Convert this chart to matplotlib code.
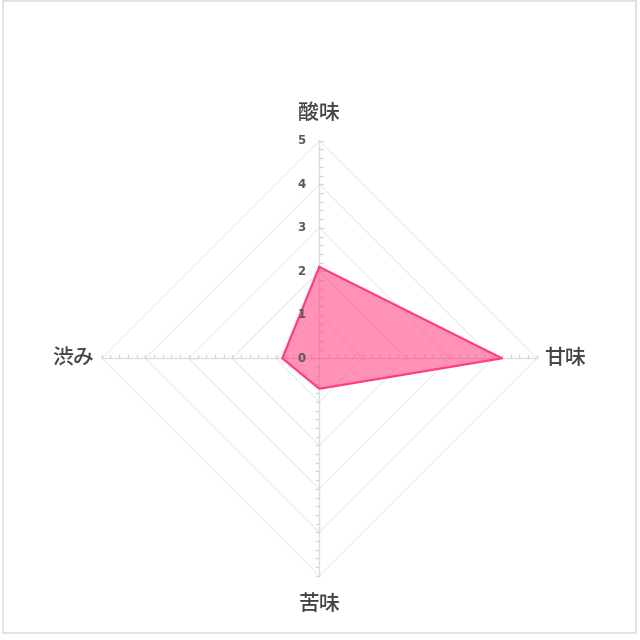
import matplotlib.pyplot as plt
import numpy as np
from matplotlib.patches import Rectangle

plt.rcParams['font.family'] = ['Noto Sans CJK JP', 'DejaVu Sans']

# data
categories = ['酸味', '甘味', '苦味', '渋み']
values = [2.1, 4.2, 0.7, 0.85]
levels = [1, 2, 3, 4, 5]
tick_labels = ['0', '1', '2', '3', '4', '5']
r_max = 5

fig = plt.figure(figsize=(6.4, 6.4), dpi=100)
ax = fig.add_axes([0, 0, 1, 1])
unit = 43.5
cx, cy = 319.3, 358.3
ax.set_xlim(-cx / unit, (640 - cx) / unit)
ax.set_ylim(-(640 - cy) / unit, cy / unit)
ax.axis('off')

# outer frame
fig.patches.append(Rectangle((3 / 640, 7 / 640), 633 / 640, 632 / 640, transform=fig.transFigure,
                             fill=False, edgecolor='#dddddd', linewidth=1.2))

angles = np.arange(len(categories)) * 2 * np.pi / len(categories)
sx, sy = np.sin(angles), np.cos(angles)

# grid diamonds
for lv in levels:
    gx = np.append(lv * sx, lv * sx[0])
    gy = np.append(lv * sy, lv * sy[0])
    ax.plot(gx, gy, color='#ebebeb', lw=0.8, zorder=1)

# spokes with minor ticks
tick_dirs = [(1, 0), (0, 1), (-1, 0), (0, 1)]
for i in range(len(categories)):
    ax.plot([0, r_max * sx[i]], [0, r_max * sy[i]], color='#dcdcdc', lw=1.0, zorder=1)
    for t in np.arange(0.2, r_max + 0.01, 0.2):
        px, py = t * sx[i], t * sy[i]
        dx, dy = tick_dirs[i]
        ax.plot([px, px + dx * 0.08], [py, py + dy * 0.08], color='#d6d6d6', lw=0.9, zorder=1)

# data polygon
px = np.append(np.array(values) * sx, values[0] * sx[0])
py = np.append(np.array(values) * sy, values[0] * sy[0])
ax.fill(px, py, color='#ff4a85', alpha=0.6, zorder=3, lw=0)
ax.plot(px, py, color='#ff3d7f', lw=1.6, zorder=4)

# scale labels
for k, lab in enumerate(tick_labels):
    ax.text(-0.41, k, lab, ha='center', va='center', fontsize=8.5, fontweight='bold',
            color='#595959', family=['DejaVu Sans'], zorder=5)

# category labels
for i, cat in enumerate(categories):
    r = 5.65
    ax.text(r * sx[i], r * sy[i], cat, ha='center', va='center', fontsize=15,
            fontweight='medium', color='#444444', zorder=5)

plt.savefig('out.png', dpi=100)
plt.close()
